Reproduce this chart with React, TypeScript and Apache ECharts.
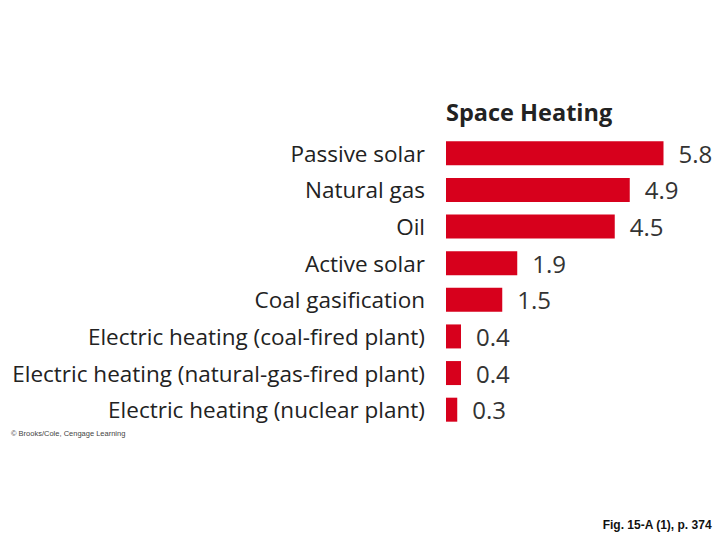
import React, { useEffect, useRef } from "react";
import * as echarts from "echarts";

const categories = [
  "Passive solar",
  "Natural gas",
  "Oil",
  "Active solar",
  "Coal gasification",
  "Electric heating (coal-fired plant)",
  "Electric heating (natural-gas-fired plant)",
  "Electric heating (nuclear plant)",
];
const values = [5.8, 4.9, 4.5, 1.9, 1.5, 0.4, 0.4, 0.3];
const title = "Space Heating";
const credit = "© Brooks/Cole, Cengage Learning";
const footer = "Fig. 15-A (1), p. 374";

export default function App() {
  const ref = useRef<HTMLDivElement>(null);
  useEffect(() => {
    document.body.style.margin = "0";
    const chart = echarts.init(ref.current!, null, { renderer: "svg" });
    const font = "'Open Sans', 'Noto Sans', sans-serif";
    chart.setOption({
      animation: false,
      backgroundColor: "#ffffff",
      title: {
        text: title,
        left: 441,
        top: 95,
        textStyle: {
          fontFamily: font,
          fontSize: 23.5,
          fontWeight: "bold",
          color: "#222222",
        },
      },
      grid: { left: 446, top: 135, width: 6.5 * 37.5, height: 293 },
      xAxis: {
        type: "value",
        min: 0,
        max: 6.5,
        show: false,
      },
      yAxis: {
        type: "category",
        data: categories,
        inverse: true,
        axisLine: { show: false },
        axisTick: { show: false },
        axisLabel: {
          margin: 21,
          fontFamily: font,
          fontSize: 22.5,
          color: "#222222",
        },
      },
      series: [
        {
          type: "bar",
          data: values,
          barWidth: 24,
          itemStyle: { color: "#d7001c" },
          label: {
            show: true,
            position: "right",
            distance: 15,
            fontFamily: font,
            fontSize: 24,
            color: "#333333",
            formatter: (p: any) => p.value.toFixed(1),
          },
        },
      ],
      graphic: [
        {
          type: "text",
          left: 11,
          top: 429,
          style: {
            text: credit,
            font: "7.5px Arial, 'Liberation Sans', sans-serif",
            fill: "#444444",
          },
        },
        {
          type: "text",
          right: 8,
          top: 519,
          style: {
            text: footer,
            font: "bold 12px Arial, 'Liberation Sans', sans-serif",
            fill: "#111111",
          },
        },
      ],
    });
    return () => chart.dispose();
  }, []);
  return <div ref={ref} style={{ width: 720, height: 540 }} />;
}
